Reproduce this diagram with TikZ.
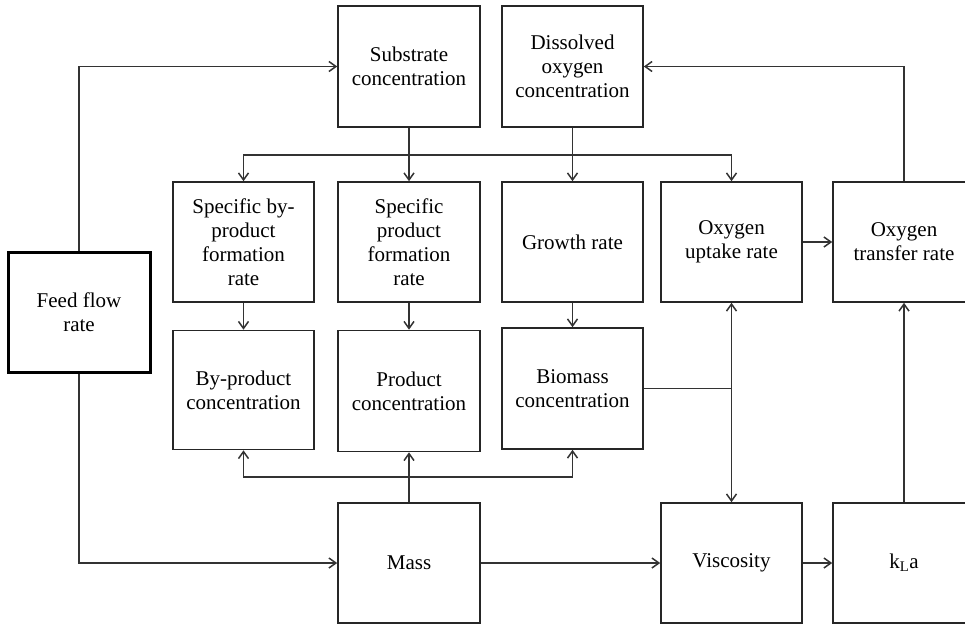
\documentclass[tikz,border=0pt]{standalone}
\usepackage{fontspec}
\setmainfont{Liberation Serif}
\usetikzlibrary{arrows.meta}
\begin{document}
\begin{tikzpicture}[x=1pt,y=-1pt,
  box/.style={draw=black!85,line width=1.6pt,minimum width=141pt,minimum height=120pt,
    inner sep=0pt,align=center,font=\fontsize{21}{24}\selectfont},
  thickbox/.style={box,line width=3pt,draw=black},
  conn/.style={draw=black!80,line width=1.5pt},
  arr/.style={conn,-{Straight Barb[length=7pt,width=10pt]}},
  arrboth/.style={conn,{Straight Barb[length=7pt,width=10pt]}-{Straight Barb[length=7pt,width=10pt]}}]
\useasboundingbox (0,0) rectangle (965,624);
\clip (0,0) rectangle (965,624);
% nodes
\node[thickbox,minimum width=142pt] (feed) at (79,312) {Feed flow\\rate};
\node[box,minimum width=142pt,minimum height=121pt] (sub) at (409,66.5) {Substrate\\concentration};
\node[box,minimum height=121pt] (dis) at (572.5,66.5) {Dissolved\\oxygen\\concentration};
\node[box] (sbp) at (243.5,242) {Specific by-\\product\\formation\\rate};
\node[box,minimum width=142pt] (sp) at (409,242) {Specific\\product\\formation\\rate};
\node[box] (gr) at (572.5,242) {Growth rate};
\node[box] (our) at (731.5,242) {Oxygen\\uptake rate};
\node[box,minimum width=142pt] (otr) at (904,242) {Oxygen\\transfer rate};
\node[box,minimum height=119pt] (bpc) at (243.5,390) {By-product\\concentration};
\node[box,minimum width=142pt,minimum height=121pt] (pc) at (409,391) {Product\\concentration};
\node[box,minimum height=121pt] (bio) at (572.5,388.5) {Biomass\\concentration};
\node[box,minimum width=142pt] (mass) at (409,563) {Mass};
\node[box] (visc) at (731.5,563) {Viscosity};
\node[box,minimum width=142pt] (kla) at (904,563) {k$_{\mathrm{L}}$a};
% bus coordinates
\coordinate (busT) at (409,155);
\coordinate (busB) at (409,477);
% connectors
\draw[arr] (feed.north) |- (sub.west);
\draw[arr] (feed.south) |- (mass.west);
\draw[arrboth] (sbp.north) |- (busT) -| (our.north);
\draw[arr] (sub.south) -- (sp.north);
\draw[arr] (dis.south) -- (gr.north);
\draw[arr] (sbp.south) -- (bpc.north);
\draw[arr] (sp.south) -- (pc.north);
\draw[arr] (gr.south) -- (bio.north);
\draw[arrboth] (bpc.south) |- (busB) -| (bio.south);
\draw[arr] (mass.north) -- (pc.south);
\draw[conn] (bio.east) -- (bio.east -| our.south);
\draw[arrboth] (our.south) -- (visc.north);
\draw[arr] (mass.east) -- (visc.west);
\draw[arr] (visc.east) -- (kla.west);
\draw[arr] (kla.north) -- (otr.south);
\draw[arr] (our.east) -- (otr.west);
\draw[arr] (otr.north) |- (dis.east);
\end{tikzpicture}
\end{document}
